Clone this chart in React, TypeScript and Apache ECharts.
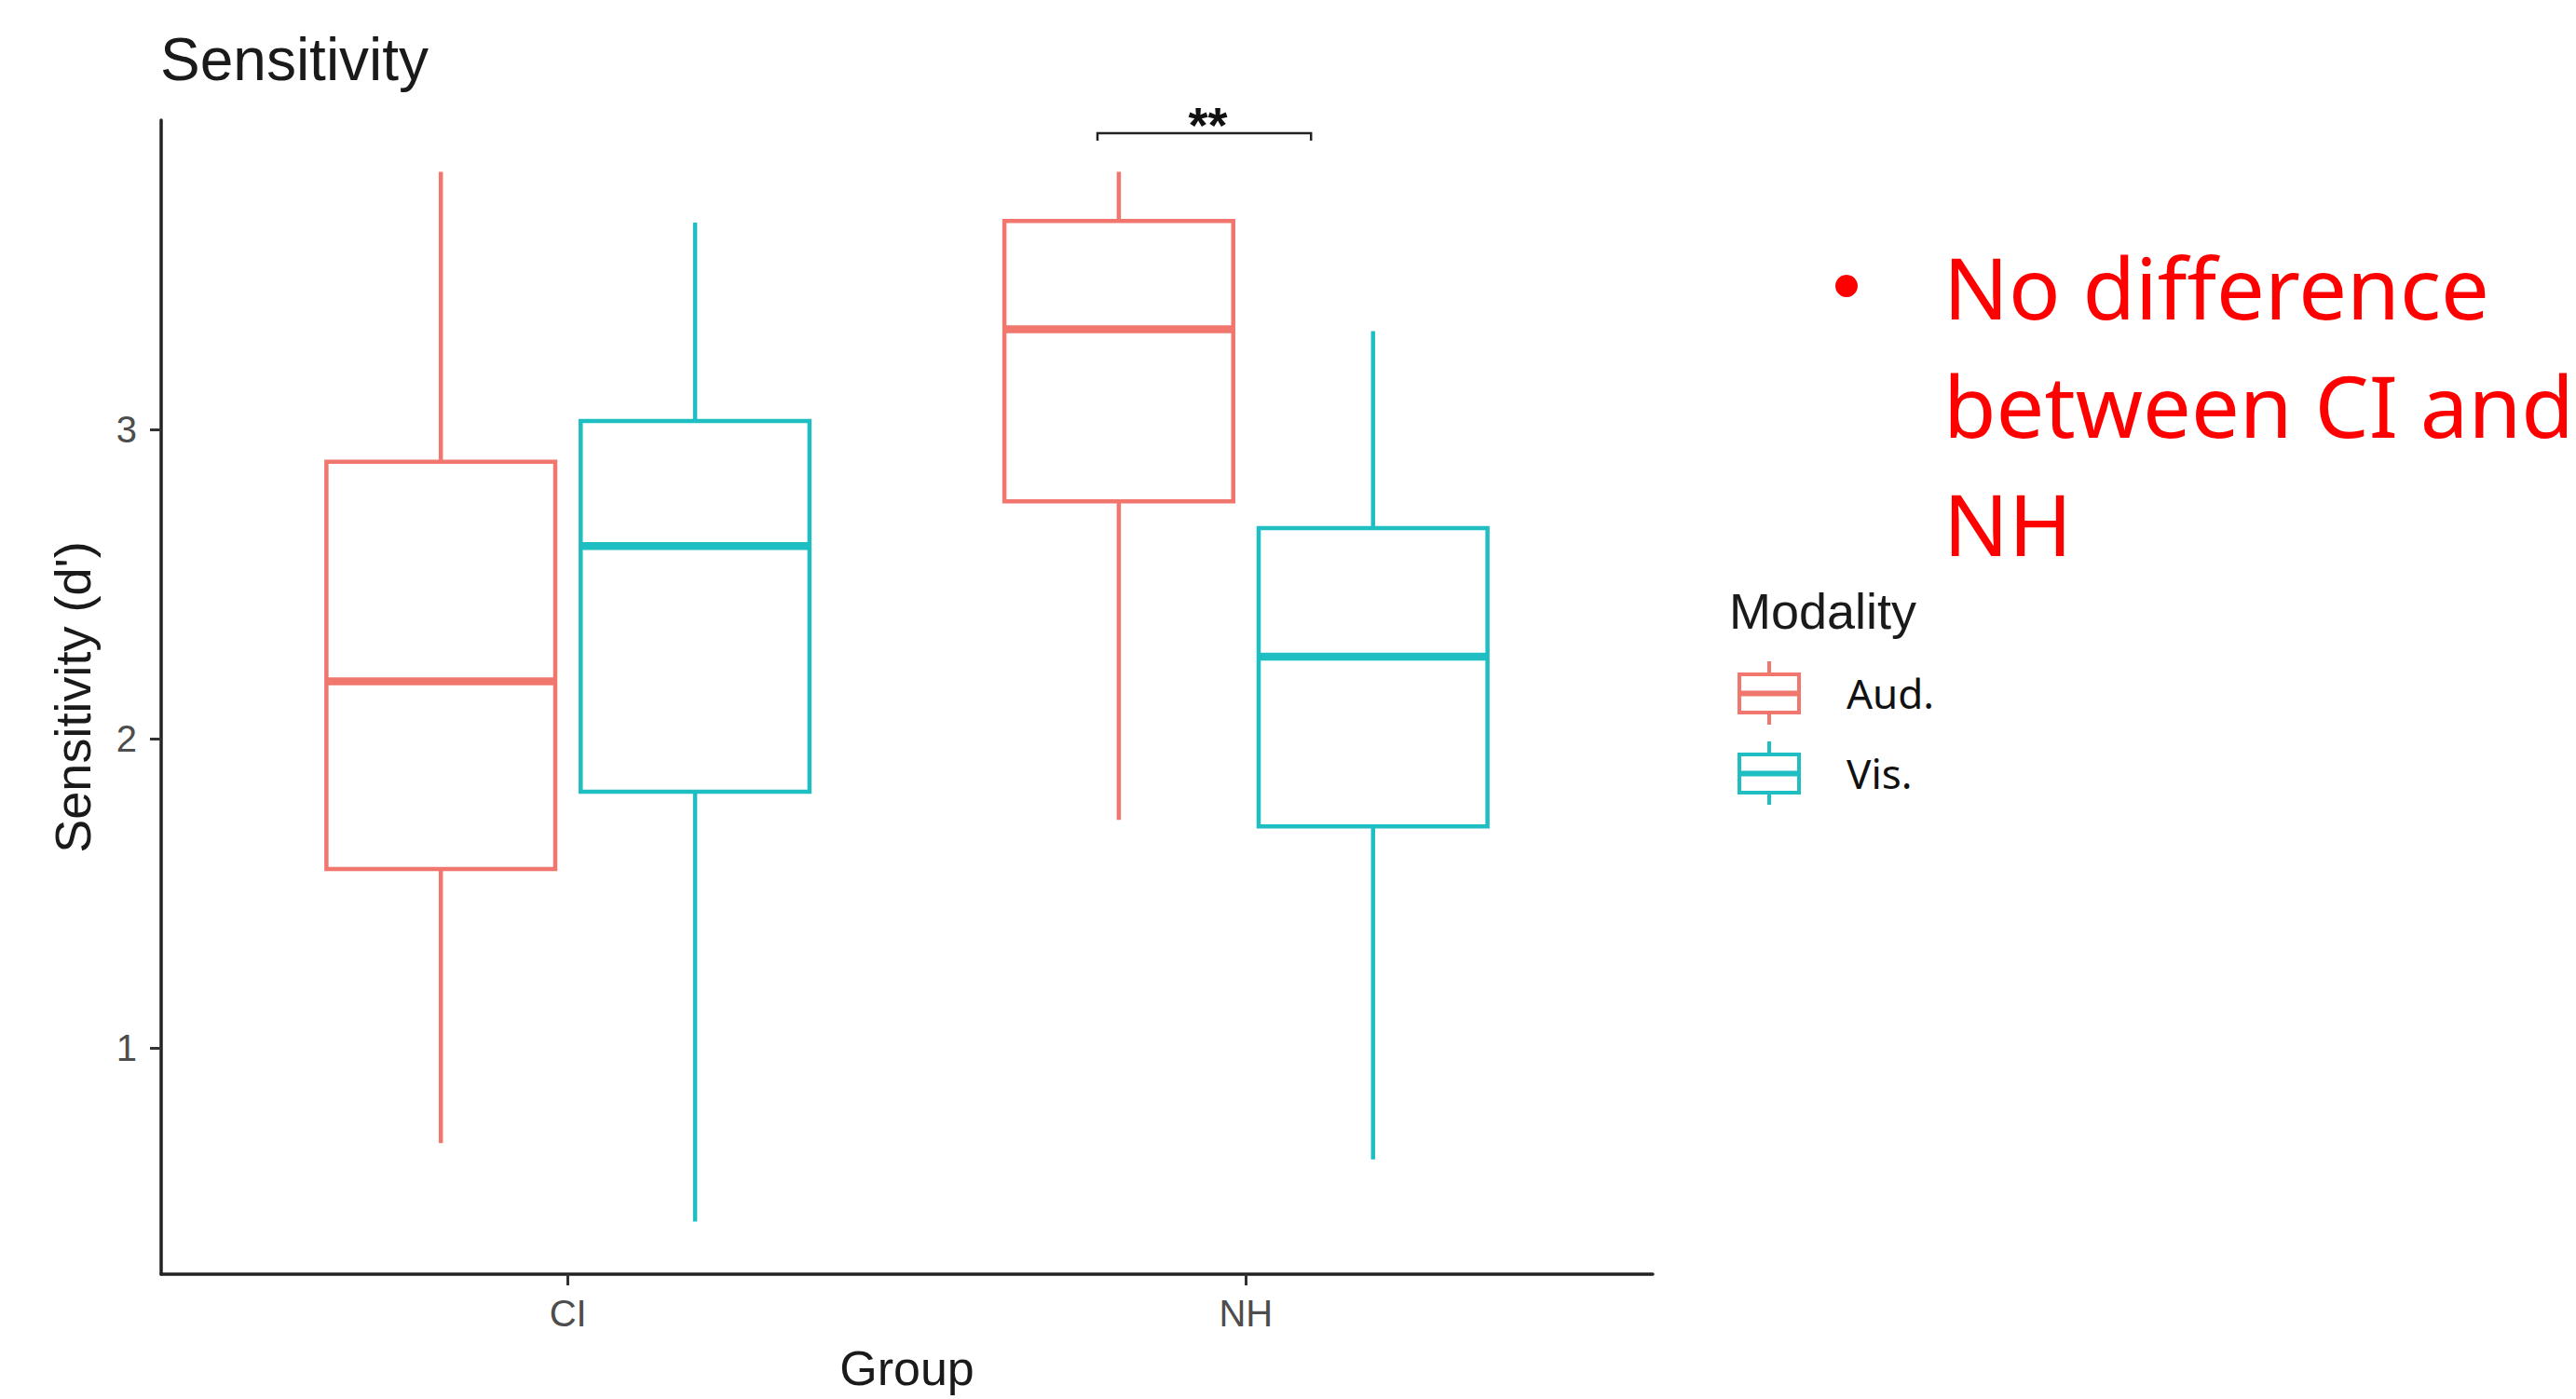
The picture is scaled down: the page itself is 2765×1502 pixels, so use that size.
import React, { useEffect, useRef } from 'react';
import * as echarts from 'echarts';

const GROUPS = ['CI', 'NH'];
const MODALITIES = ['Aud.', 'Vis.'];
// per group: [lower whisker, Q1, median, Q3, upper whisker]
const AUD_STATS = [
  [0.692, 1.578, 2.185, 2.895, 3.833],
  [1.737, 2.767, 3.324, 3.674, 3.833],
];
const VIS_STATS = [
  [0.438, 1.828, 2.623, 3.027, 3.669],
  [0.639, 1.716, 2.265, 2.681, 3.318],
];
const Y_TICKS = [1, 2, 3];
const X_TICKS = [1, 2];
// significance bracket: [xStart, xEnd, yTop, yTickEnd]
const SIG_BRACKET = [1.781, 2.096, 3.958, 3.934];
const SIG_LABEL = '**';
const NOTE_LINES = ['No difference', 'between CI and', 'NH'];

const AUD_COLOR = '#F1766E';
const VIS_COLOR = '#1EBEC3';
const DODGE = 0.1875;
const HALF = 0.16875;
const PLOT_FONT = 'Liberation Sans, Arial, sans-serif';
const NOTE_FONT = 'Noto Sans, Open Sans, sans-serif';

const LEGEND_ICON =
  'path://M0,12L68,12L68,57L0,57Z M4,16L4,53L64,53L64,16Z M4,31.5L64,31.5L64,37.5L4,37.5Z M32,0L36,0L36,12L32,12Z M32,57L36,57L36,68L32,68Z';

const makeBoxRender = (offset: number, color: string) => (params: any, api: any) => {
  const gi = api.value(0);
  const xc = gi + 1 + offset;
  const low = api.value(1);
  const q1 = api.value(2);
  const med = api.value(3);
  const q3 = api.value(4);
  const high = api.value(5);
  const [cx, yHigh] = api.coord([xc, high]);
  const yQ3 = api.coord([xc, q3])[1];
  const yMed = api.coord([xc, med])[1];
  const yQ1 = api.coord([xc, q1])[1];
  const yLow = api.coord([xc, low])[1];
  const xl = api.coord([xc - HALF, med])[0];
  const xr = api.coord([xc + HALF, med])[0];
  return {
    type: 'group',
    children: [
      { type: 'line', shape: { x1: cx, y1: yHigh, x2: cx, y2: yQ3 }, style: { stroke: color, lineWidth: 4.5 } },
      { type: 'line', shape: { x1: cx, y1: yQ1, x2: cx, y2: yLow }, style: { stroke: color, lineWidth: 4.5 } },
      {
        type: 'rect',
        shape: { x: xl, y: yQ3, width: xr - xl, height: yQ1 - yQ3 },
        style: { fill: '#ffffff', stroke: color, lineWidth: 4.5 },
      },
      { type: 'line', shape: { x1: xl, y1: yMed, x2: xr, y2: yMed }, style: { stroke: color, lineWidth: 8.5 } },
    ],
  };
};

const bracketRender = (params: any, api: any) => {
  const x1 = api.value(0);
  const x2 = api.value(1);
  const yTop = api.value(2);
  const yEnd = api.value(3);
  const a = api.coord([x1, yEnd]);
  const b = api.coord([x1, yTop]);
  const c = api.coord([x2, yTop]);
  const d = api.coord([x2, yEnd]);
  return {
    type: 'group',
    children: [
      { type: 'polyline', shape: { points: [a, b, c, d] }, style: { stroke: '#222', lineWidth: 2.5, fill: 'none' } },
      {
        type: 'text',
        x: (b[0] + c[0]) / 2 + 4,
        y: b[1] - 9,
        style: {
          text: SIG_LABEL,
          fontSize: 54,
          fontWeight: 'bold',
          fontFamily: PLOT_FONT,
          fill: '#111',
          align: 'center',
          verticalAlign: 'middle',
        },
      },
    ],
  };
};

export default function App() {
  const ref = useRef<HTMLDivElement>(null);
  useEffect(() => {
    if (!ref.current) return;
    const chart = echarts.init(ref.current, null, { renderer: 'svg' });
    const option: any = {
      animation: false,
      backgroundColor: '#ffffff',
      title: [
        {
          text: 'Sensitivity',
          left: 172,
          top: 32,
          padding: 0,
          textStyle: { fontSize: 64, fontWeight: 'normal', color: '#1a1a1a', fontFamily: PLOT_FONT },
        },
        {
          text: 'Modality',
          left: 1856,
          top: 629,
          padding: 0,
          textStyle: { fontSize: 54, fontWeight: 'normal', color: '#1a1a1a', fontFamily: PLOT_FONT },
        },
      ],
      legend: {
        orient: 'vertical',
        left: 1865,
        top: 710,
        padding: 0,
        itemWidth: 68,
        itemHeight: 68,
        itemGap: 18,
        selectedMode: false,
        data: MODALITIES.map((m) => ({ name: m, icon: LEGEND_ICON })),
        itemStyle: { borderWidth: 0 },
        textStyle: { fontSize: 44, color: '#111', fontFamily: NOTE_FONT, padding: [4, 0, 0, 44] },
      },
      grid: { left: 173, right: 991, top: 129, bottom: 134, outerBoundsMode: 'none' },
      xAxis: {
        type: 'value',
        min: 0.4,
        max: 2.6,
        name: 'Group',
        nameLocation: 'middle',
        nameGap: 75,
        nameTextStyle: { fontSize: 52, color: '#1a1a1a', fontFamily: PLOT_FONT },
        axisLine: { show: true, lineStyle: { color: '#222', width: 3.5 } },
        axisTick: { show: true, customValues: X_TICKS, length: 12, lineStyle: { color: '#333', width: 3 } },
        axisLabel: {
          customValues: X_TICKS,
          formatter: (v: number) => GROUPS[Math.round(v) - 1] ?? '',
          fontSize: 40,
          color: '#4D4D4D',
          fontFamily: PLOT_FONT,
          margin: 22,
        },
        splitLine: { show: false },
      },
      yAxis: {
        type: 'value',
        min: 0.268,
        max: 4.0,
        name: "Sensitivity (d')",
        nameLocation: 'middle',
        nameRotate: 90,
        nameGap: 68,
        nameTextStyle: { fontSize: 54, color: '#1a1a1a', fontFamily: PLOT_FONT },
        axisLine: { show: true, lineStyle: { color: '#222', width: 3.5 } },
        axisTick: { show: true, customValues: Y_TICKS, length: 12, lineStyle: { color: '#333', width: 3 } },
        axisLabel: {
          customValues: Y_TICKS,
          fontSize: 40,
          color: '#4D4D4D',
          fontFamily: PLOT_FONT,
          margin: 26,
        },
        splitLine: { show: false },
      },
      series: [
        {
          name: MODALITIES[0],
          type: 'custom',
          renderItem: makeBoxRender(-DODGE, AUD_COLOR),
          itemStyle: { color: AUD_COLOR },
          encode: { x: 0, y: [1, 2, 3, 4, 5] },
          data: AUD_STATS.map((s, i) => [i, ...s]),
        },
        {
          name: MODALITIES[1],
          type: 'custom',
          renderItem: makeBoxRender(DODGE, VIS_COLOR),
          itemStyle: { color: VIS_COLOR },
          encode: { x: 0, y: [1, 2, 3, 4, 5] },
          data: VIS_STATS.map((s, i) => [i, ...s]),
        },
        {
          name: 'significance',
          type: 'custom',
          renderItem: bracketRender,
          encode: { x: [0, 1], y: [2, 3] },
          data: [SIG_BRACKET],
        },
      ],
      graphic: [
        { type: 'circle', shape: { cx: 1982, cy: 307, r: 12 }, style: { fill: '#FF0000' } },
        {
          type: 'text',
          left: 2086,
          top: 244,
          style: {
            text: NOTE_LINES.join('\n'),
            fontSize: 92,
            lineHeight: 127,
            fill: '#FF0000',
            fontFamily: NOTE_FONT,
          },
        },
      ],
    };
    chart.setOption(option);
    return () => chart.dispose();
  }, []);
  return (
    <div
      ref={ref}
      style={{ position: 'absolute', left: 0, top: 0, width: 2765, height: 1502, background: '#fff' }}
    />
  );
}
